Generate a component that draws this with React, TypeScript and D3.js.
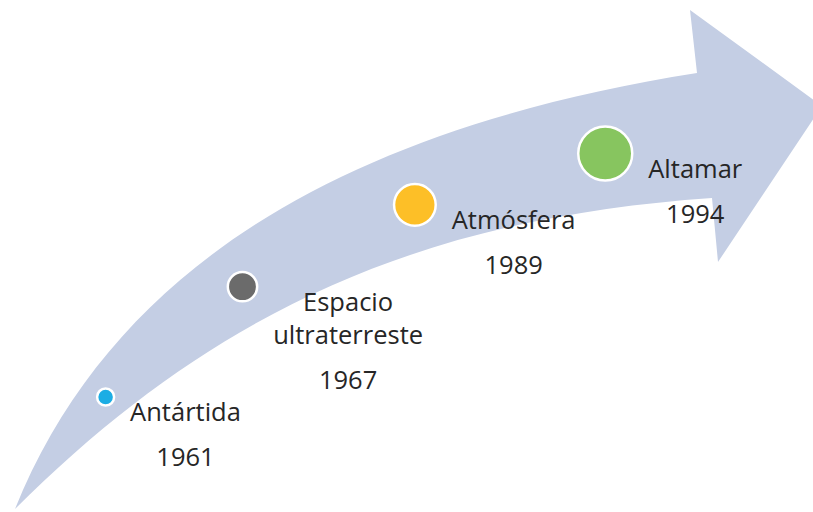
import React, { useRef, useEffect } from 'react';
import * as d3 from 'd3';

// timeline items
const categories = ['Antártida', 'Espacio ultraterreste', 'Atmósfera', 'Altamar'];
const labelLines = [['Antártida'], ['Espacio', 'ultraterreste'], ['Atmósfera'], ['Altamar']];
const years = ['1961', '1967', '1989', '1994'];
const dotColors = ['#1CADE4', '#6B6B6B', '#FDBF27', '#87C55F'];

// arrow outline (decorative shape): tail, upper edge bezier, head, lower edge bezier
const tail = [15, 509];
const upperCtrl = [[115, 261], [355, 127], [697, 73]];
const headPoints = [[690, 10], [822, 106], [718, 262], [712, 198]];
const lowerCtrl = [[424, 218], [215, 309], [15, 509]];
// centre track the dots sit on
const trackCtrl = [[15, 509], [170, 280], [385, 185], [705, 136]];

const App = () => {
  const svgRef = useRef<SVGSVGElement>(null);

  useEffect(() => {
    const svg = d3.select(svgRef.current);
    const width = 813;
    const height = 512;
    svg.selectAll('*').remove();

    svg.append('rect').attr('width', width).attr('height', height).attr('fill', '#ffffff');

    const arrow = d3.path();
    arrow.moveTo(tail[0], tail[1]);
    arrow.bezierCurveTo(upperCtrl[0][0], upperCtrl[0][1], upperCtrl[1][0], upperCtrl[1][1], upperCtrl[2][0], upperCtrl[2][1]);
    headPoints.forEach(p => arrow.lineTo(p[0], p[1]));
    arrow.bezierCurveTo(lowerCtrl[0][0], lowerCtrl[0][1], lowerCtrl[1][0], lowerCtrl[1][1], lowerCtrl[2][0], lowerCtrl[2][1]);
    arrow.closePath();

    svg.append('path')
      .attr('d', arrow.toString())
      .attr('fill', '#C4CEE4');

    const tp = d3.path();
    tp.moveTo(trackCtrl[0][0], trackCtrl[0][1]);
    tp.bezierCurveTo(trackCtrl[1][0], trackCtrl[1][1], trackCtrl[2][0], trackCtrl[2][1], trackCtrl[3][0], trackCtrl[3][1]);
    const trackPath = svg.append('path')
      .attr('d', tp.toString())
      .attr('fill', 'none')
      .attr('stroke', 'none');
    const node = trackPath.node() as SVGPathElement;
    const len = node.getTotalLength();

    // dots spread a little wider towards the head
    const pos = d3.scalePow()
      .exponent(1.06)
      .domain([0, categories.length - 1])
      .range([0.178 * len, 0.875 * len]);

    const rScale = d3.scaleLinear()
      .domain([0, categories.length - 1])
      .range([8.5, 27]);

    const items = categories.map((c, i) => {
      const p = node.getPointAtLength(pos(i));
      return { c, i, x: p.x, y: p.y, r: rScale(i) };
    });

    svg.selectAll('.dot')
      .data(items)
      .enter()
      .append('circle')
      .attr('class', 'dot')
      .attr('cx', d => d.x)
      .attr('cy', d => d.y)
      .attr('r', d => d.r)
      .attr('fill', d => dotColors[d.i])
      .attr('stroke', '#ffffff')
      .attr('stroke-width', 2.5);

    const gap = 16;
    const lineH = 33;
    const yearGap = 45;

    items.forEach(d => {
      const g = svg.append('g')
        .style('font-family', '"Open Sans", sans-serif')
        .style('font-size', '25.5px')
        .attr('fill', '#262626')
        .attr('text-anchor', 'middle');
      const lines = labelLines[d.i];
      lines.forEach((t, k) => {
        g.append('text').attr('x', 0).attr('y', k * lineH).text(t);
      });
      g.append('text')
        .attr('x', 0)
        .attr('y', (lines.length - 1) * lineH + yearGap)
        .text(years[d.i]);
      let w = 0;
      g.selectAll<SVGTextElement, unknown>('text').each(function () {
        w = Math.max(w, this.getComputedTextLength());
      });
      g.attr('transform', `translate(${d.x + d.r + gap + w / 2}, ${d.y + 24})`);
    });
  }, []);

  return (
    <svg ref={svgRef} width={813} height={512} style={{ position: 'absolute', left: 0, top: 0 }}></svg>
  );
};

export default App;
